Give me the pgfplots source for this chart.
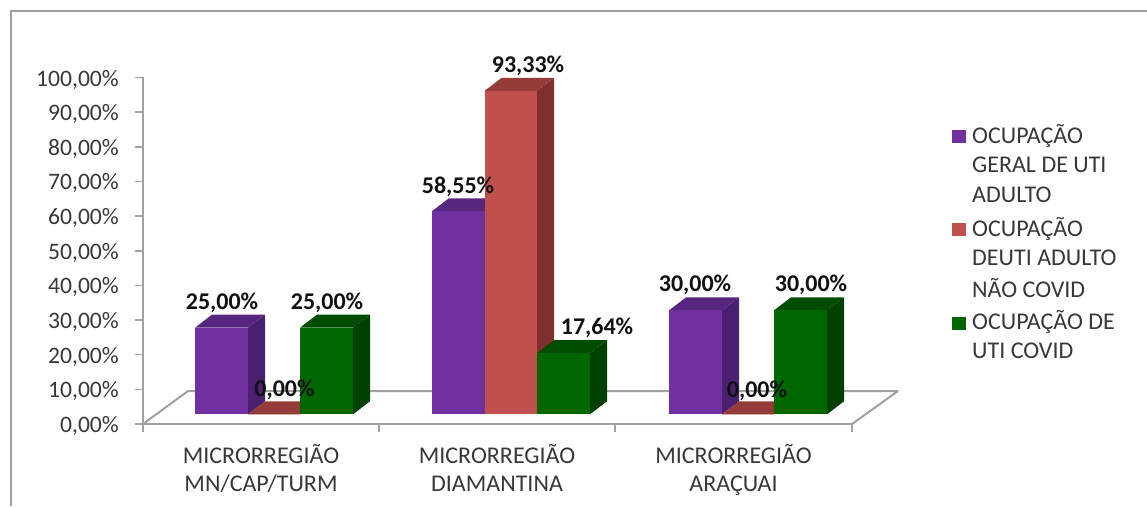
\documentclass[border=0pt]{standalone}
\usepackage{pgfplots}
\pgfplotsset{compat=1.18}
\usepackage{fontspec}
\setmainfont{Carlito}

\definecolor{axisgray}{HTML}{A0A0A0}
\definecolor{txt}{HTML}{383838}
\definecolor{lbl}{HTML}{111111}
\definecolor{purF}{HTML}{7030A0}
\definecolor{purS}{HTML}{4A2070}
\definecolor{purT}{HTML}{572780}
\definecolor{redF}{HTML}{C0504D}
\definecolor{redS}{HTML}{7E2F2E}
\definecolor{redT}{HTML}{953C3A}
\definecolor{greF}{HTML}{006600}
\definecolor{greS}{HTML}{004000}
\definecolor{greT}{HTML}{004C00}

% one box: left x, right x, value, colour stem; depth is 17 x units and 3.75 y units
\newcommand{\boxthreed}[4]{%
  \addplot[yshift=9.7pt,draw=none,fill=#4S] coordinates {(#2,0) ({#2+17},3.75) ({#2+17},{#3+3.75}) (#2,#3)} --cycle;
  \addplot[yshift=9.7pt,draw=none,fill=#4T] coordinates {(#1,#3) (#2,#3) ({#2+17},{#3+3.75}) ({#1+17},{#3+3.75})} --cycle;
  \addplot[yshift=9.7pt,draw=none,fill=#4F] coordinates {(#1,0) (#2,0) (#2,#3) (#1,#3)} --cycle;
}
\newcommand{\tickfont}{\fontsize{23.6}{28}\selectfont}
\newcommand{\catfont}{\fontsize{24}{28}\selectfont}
\newcommand{\lblfont}{\fontsize{24}{28}\selectfont\bfseries}

\begin{document}
\begin{tikzpicture}[x=1pt,y=1pt]
% picture coordinates: reference pixels, y down
\tikzset{px/.style={x=1pt,y=-1pt,shift={(-143pt,424pt)}}}
\begin{scope}[px]
  \path[use as bounding box] (0,0) rectangle (1147,506);
  \draw[axisgray,line width=2pt] (1147,11.5) -- (11,11.5) -- (11,506);
  % floor
  \draw[axisgray,line width=2pt,line join=bevel] (143,424) -- (188,391) -- (898,391) -- (852,424);
\end{scope}

\begin{axis}[
    at={(0,0)},anchor=south west,
    scale only axis,
    width=709pt,height=346.5pt,
    xmin=143,xmax=852,ymin=0,ymax=100,
    clip=false,
    axis lines*=left,
    axis line style={axisgray,line width=2pt},
    tick style={axisgray,line width=1.5pt},
    tick align=outside,
    major tick length=8pt,
    xtick={143,379,615,852},
    xticklabels={},
    extra x ticks={261,497,733.5},
    extra x tick style={major tick length=0pt},
    extra x tick labels={{MICRORREGIÃO\\MN/CAP/TURM},{MICRORREGIÃO\\DIAMANTINA},{MICRORREGIÃO\\ARAÇUAI}},
    xticklabel style={font=\catfont,text=txt,align=center,yshift=-17pt},
    ytick={0,10,...,100},
    yticklabel={\pgfmathprintnumber{\tick}\%},
    /pgf/number format/.cd,fixed,fixed zerofill,precision=2,use comma,assume math mode=true,
    /pgfplots/.cd,
    yticklabel style={font=\tickfont,text=txt,anchor=east,inner sep=0pt,xshift=-16pt,yshift=-2pt},
]
% MN/CAP/TURM
\boxthreed{195}{248}{25.00}{pur}
\boxthreed{248}{300}{0.00}{red}
\boxthreed{300}{353}{25.00}{gre}
% DIAMANTINA
\boxthreed{431.7}{484.5}{58.55}{pur}
\boxthreed{484.5}{537}{93.33}{red}
\boxthreed{537}{590}{17.64}{gre}
% ARACUAI
\boxthreed{669}{722}{30.00}{pur}
\boxthreed{722}{774}{0.00}{red}
\boxthreed{774}{827}{30.00}{gre}
\end{axis}

\begin{scope}[px]
  \foreach \x/\y/\t in {222/303/{25,00\%},284.5/389.5/{0,00\%},327/303/{25,00\%},
                        458/187/{58,55\%},528/66/{93,33\%},597/328/{17,64\%},
                        695/285/{30,00\%},757/390.5/{0,00\%},811/285/{30,00\%}}
    \node[font=\lblfont,text=lbl,inner sep=0pt] at (\x,\y) {\t};
  % legend
  \fill[purF] (951.5,130) rectangle (966,143.5);
  \fill[redF] (951.5,223) rectangle (966,236.5);
  \fill[greF] (951.5,317) rectangle (966,330);
  \begin{scope}[every node/.style={font=\catfont,text=txt,inner sep=0pt,anchor=west}]
    \node at (972,136) {OCUPAÇÃO};
    \node at (972,165) {GERAL DE UTI};
    \node at (972,195) {ADULTO};
    \node at (972,229) {OCUPAÇÃO};
    \node at (972,258) {DEUTI ADULTO};
    \node at (972,288) {NÃO COVID};
    \node at (972,322) {OCUPAÇÃO DE};
    \node at (972,351) {UTI COVID};
  \end{scope}
\end{scope}
\end{tikzpicture}
\end{document}
